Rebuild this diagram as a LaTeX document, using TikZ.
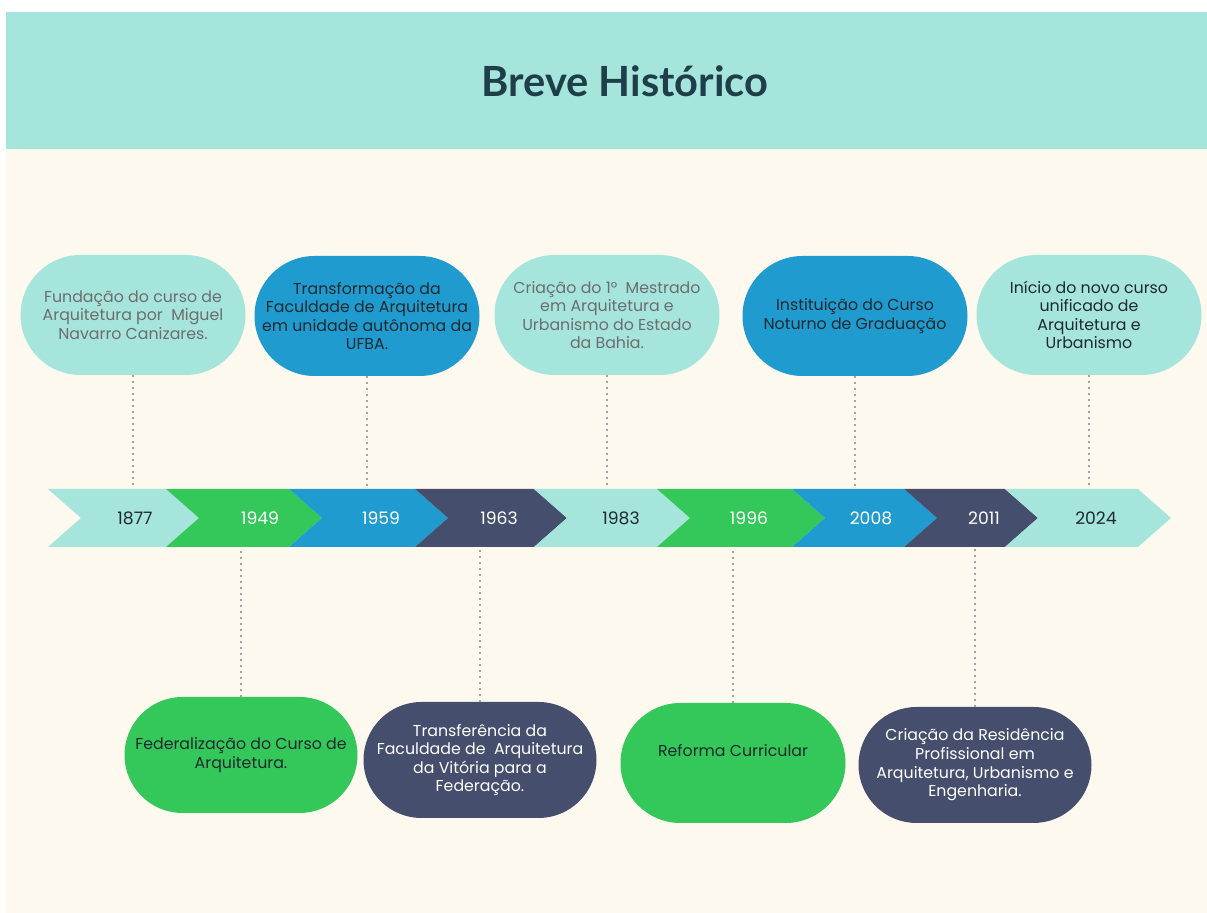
\documentclass[tikz,border=0pt]{standalone}
\usepackage{fontspec}
\setmainfont{Poppins}
\newfontfamily\titlefont{Lato}
\definecolor{headteal}{HTML}{A6E5DC}
\definecolor{cream}{HTML}{FDF9EF}
\definecolor{tlgreen}{HTML}{34C759}
\definecolor{tlblue}{HTML}{1F9BCF}
\definecolor{tlnavy}{HTML}{454E6C}
\definecolor{titlecol}{HTML}{1E3F4A}
\definecolor{greytext}{HTML}{6D6D6D}
\definecolor{darktext}{HTML}{1F2A30}
\definecolor{dotcol}{HTML}{A3A3A3}
\tikzset{
  bubble/.style={shape=rectangle, rounded corners=30pt, minimum width=112.5pt,
    minimum height=60pt, align=center, inner sep=0pt,
    font=\fontsize{7.9}{9.3}\selectfont},
  lowbubble/.style={bubble, rounded corners=29pt, minimum width=116.5pt, minimum height=58pt},
  year/.style={font=\fontsize{8.6}{10}\selectfont, inner sep=0pt},
  link/.style={draw=dotcol, dotted, line width=1pt}
}
\begin{document}
\begin{tikzpicture}[x=0.5pt, y=-0.5pt]
\useasboundingbox (0,0) rectangle (1207,913);
\fill[cream] (6,12) rectangle (1207,913);
\fill[headteal] (6,12) rectangle (1207,149);
\node[text=titlecol, font=\titlefont\bfseries\fontsize{20.8}{24}\selectfont] at (625,81)
(title) {Breve Histórico};

% timeline band
\coordinate (bandtop) at (0,489);
\coordinate (bandbot) at (0,547);
\fill[headteal] (48,489) -- (166,489) -- ++(33,29) -- ++(-33,29) -- (48,547) -- ++(33,-29) -- cycle;
\fill[tlgreen] (166,489) -- (289,489) -- ++(33,29) -- ++(-33,29) -- (166,547) -- ++(33,-29) -- cycle;
\fill[tlblue] (289,489) -- (415,489) -- ++(33,29) -- ++(-33,29) -- (289,547) -- ++(33,-29) -- cycle;
\fill[tlnavy] (415,489) -- (534,489) -- ++(33,29) -- ++(-33,29) -- (415,547) -- ++(33,-29) -- cycle;
\fill[headteal] (534,489) -- (657,489) -- ++(33,29) -- ++(-33,29) -- (534,547) -- ++(33,-29) -- cycle;
\fill[tlgreen] (657,489) -- (792,489) -- ++(33,29) -- ++(-33,29) -- (657,547) -- ++(33,-29) -- cycle;
\fill[tlblue] (792,489) -- (904,489) -- ++(33,29) -- ++(-33,29) -- (792,547) -- ++(33,-29) -- cycle;
\fill[tlnavy] (904,489) -- (1005,489) -- ++(33,29) -- ++(-33,29) -- (904,547) -- ++(33,-29) -- cycle;
\fill[headteal] (1005,489) -- (1138,489) -- ++(33,29) -- ++(-33,29) -- (1005,547) -- ++(33,-29) -- cycle;

\node[year, text=darktext] at (135,518) (y1877) {1877};
\node[year, text=white] at (260,518) (y1949) {1949};
\node[year, text=white] at (381,518) (y1959) {1959};
\node[year, text=white] at (499,518) (y1963) {1963};
\node[year, text=darktext] at (621,518) (y1983) {1983};
\node[year, text=white] at (749,518) (y1996) {1996};
\node[year, text=white] at (871,518) (y2008) {2008};
\node[year, text=white] at (984,518) (y2011) {2011};
\node[year, text=darktext] at (1096,518) (y2024) {2024};

% events above the band
\node[bubble, fill=headteal, text=greytext] at (133,315)
(f1877) {Fundação do curso de\\Arquitetura por\ \ Miguel\\Navarro Canizares.};
\node[bubble, fill=tlblue, text=darktext] at (367,316)
(f1959) {Transformação da\\Faculdade de Arquitetura\\em unidade autônoma da\\UFBA.};
\node[bubble, fill=headteal, text=greytext] at (607,315)
(f1983) {Criação do 1°\ \ Mestrado\\em Arquitetura e\\Urbanismo do Estado\\da Bahia.};
\node[bubble, fill=tlblue, text=darktext] at (855,316)
(f2008) {Instituição do Curso\\Noturno de Graduação};
\node[bubble, fill=headteal, text=darktext] at (1089,315)
(f2024) {Início do novo curso\\unificado de\\Arquitetura e\\Urbanismo};

% events below the band
\node[lowbubble, fill=tlgreen, text=darktext] at (241,755)
(f1949) {Federalização do Curso de\\Arquitetura.};
\node[lowbubble, fill=tlnavy, text=white] at (480,760)
(f1963) {Transferência da\\Faculdade de\ \ Arquitetura\\da Vitória para a\\Federação.};
\node[bubble, fill=tlgreen, text=darktext] at (733,763)
(f1996) {Reforma Curricular\\[3pt]};
\node[lowbubble, fill=tlnavy, text=white] at (975,765)
(f2011) {Criação da Residência\\Profissional em\\Arquitetura, Urbanismo e\\Engenharia.};

\draw[link]
  (f1877.south) -- (f1877.south |- bandtop)
  (f1959.south) -- (f1959.south |- bandtop)
  (f1983.south) -- (f1983.south |- bandtop)
  (f2008.south) -- (f2008.south |- bandtop)
  (f2024.south) -- (f2024.south |- bandtop)
  (f1949.north) -- (f1949.north |- bandbot)
  (f1963.north) -- (f1963.north |- bandbot)
  (f1996.north) -- (f1996.north |- bandbot)
  (f2011.north) -- (f2011.north |- bandbot)
;
\end{tikzpicture}
\end{document}
